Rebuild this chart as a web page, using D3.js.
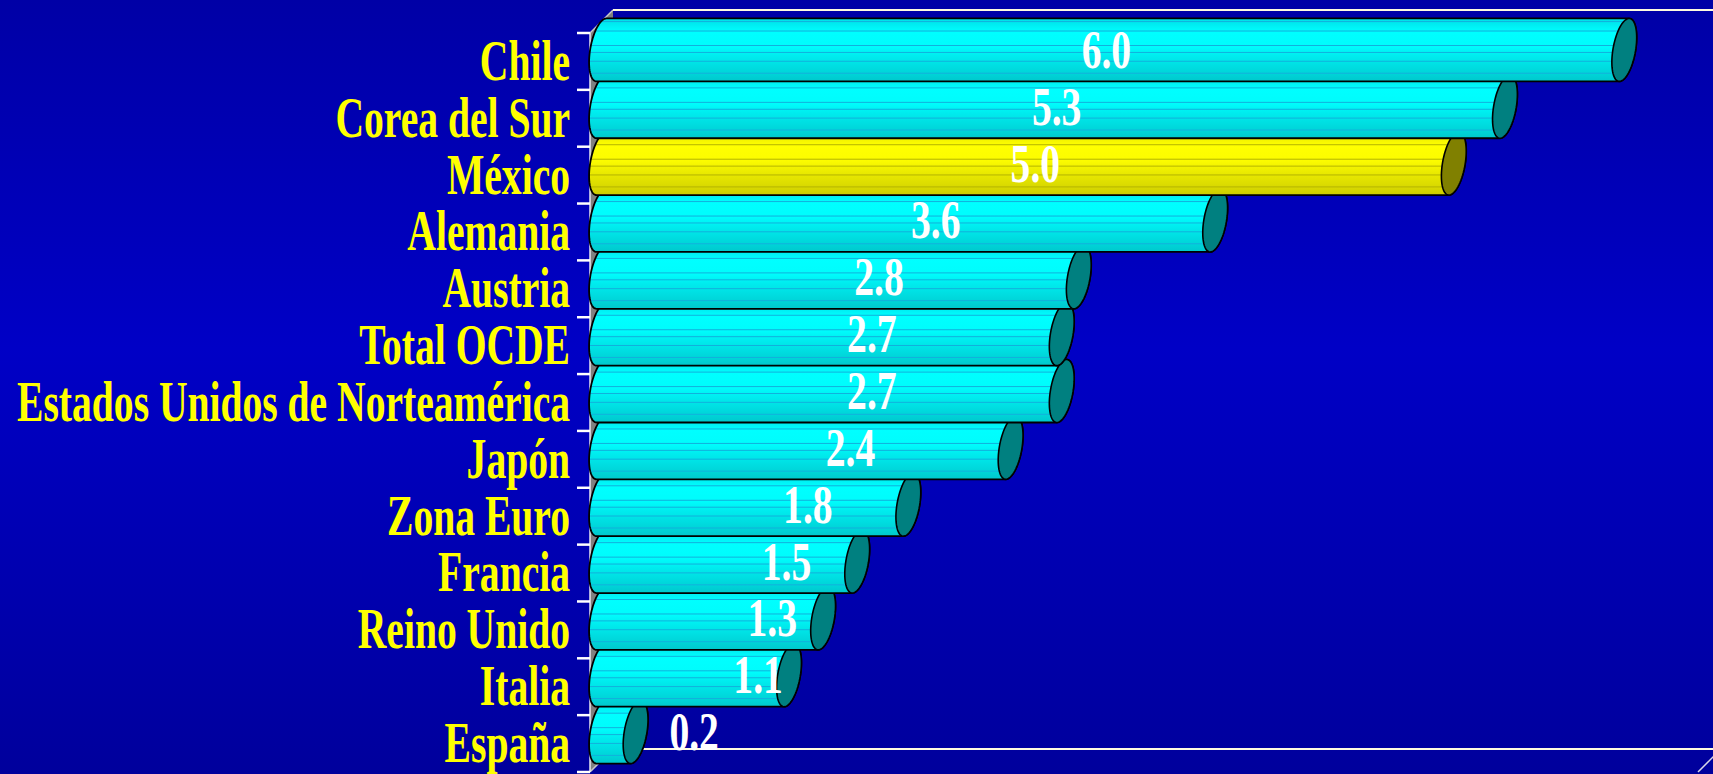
<!DOCTYPE html>
<html>
<head>
<meta charset="utf-8">
<script src="https://cdn.jsdelivr.net/npm/d3@7"></script>
<style>
  html, body { margin: 0; padding: 0; overflow: hidden; background: #0000b4; }
  svg { display: block; }
</style>
</head>
<body>
<svg id="chart" width="1713" height="774"></svg>
<script>
// Growth figures by economy (top to bottom)
const categories = ["Chile", "Corea del Sur", "México", "Alemania", "Austria", "Total OCDE",
  "Estados Unidos de Norteamérica", "Japón", "Zona Euro", "Francia", "Reino Unido", "Italia", "España"];
const values = [6.0, 5.3, 5.0, 3.6, 2.8, 2.7, 2.7, 2.4, 1.8, 1.5, 1.3, 1.1, 0.2];
const highlighted = ["México"];
const valueDomain = [0, 6.5];

(function () {
const W = 1713, H = 774;
const svg = d3.select("#chart");
const defs = svg.append("defs");

// Box geometry (front plane) and the oblique depth of the 3-D frame
const frontLeft = 590, frontRight = 1698, plotTop = 33, plotBottom = 772;
const depthX = 23, depthY = 23;

const x = d3.scaleLinear().domain(valueDomain).range([frontLeft, frontRight]);
const y = d3.scaleBand().domain(categories).range([plotTop, plotBottom]).padding(0);
const bw = y.bandwidth();
const unit = x(1) - x(0);

// Background
const bg = defs.append("linearGradient").attr("id", "bg").attr("x1", 0).attr("y1", 0).attr("x2", 0).attr("y2", 1);
[[0, "#0000a6"], [0.45, "#0000c6"], [1, "#00009c"]].forEach(([o, c]) =>
  bg.append("stop").attr("offset", o).attr("stop-color", c));
svg.append("rect").attr("width", W).attr("height", H).attr("fill", "url(#bg)");

// Frame: side wall, back edges, floor edges
const frame = svg.append("g");
frame.append("path")
  .attr("d", `M${frontLeft},${plotTop} L${frontLeft + depthX},${plotTop - depthY} L${frontLeft + depthX},${plotBottom - depthY} L${frontLeft},${plotBottom} Z`)
  .attr("fill", "#808080");
frame.append("line")
  .attr("x1", frontLeft).attr("y1", plotTop).attr("x2", frontLeft + depthX).attr("y2", plotTop - depthY)
  .attr("stroke", "#c8c8c8").attr("stroke-width", 1.5);
frame.append("line")
  .attr("x1", frontLeft).attr("y1", plotBottom).attr("x2", frontLeft + depthX).attr("y2", plotBottom - depthY)
  .attr("stroke", "#c8c8c8").attr("stroke-width", 1.5);
frame.append("line")
  .attr("x1", frontLeft + depthX).attr("y1", plotTop - depthY).attr("x2", W).attr("y2", plotTop - depthY)
  .attr("stroke", "#fffbe0").attr("stroke-width", 2);
frame.append("line")
  .attr("x1", frontLeft + depthX).attr("y1", plotBottom - depthY).attr("x2", W).attr("y2", plotBottom - depthY)
  .attr("stroke", "#fffbe0").attr("stroke-width", 2);
frame.append("line")
  .attr("x1", x(valueDomain[1])).attr("y1", plotBottom).attr("x2", x(valueDomain[1]) + depthX).attr("y2", plotBottom - depthY)
  .attr("stroke", "#d8d8e8").attr("stroke-width", 1.5);

// Category axis with tick marks on band boundaries
const tickYs = categories.map(c => y(c)).concat([plotBottom]);
frame.append("line")
  .attr("x1", frontLeft).attr("y1", plotTop).attr("x2", frontLeft).attr("y2", plotBottom)
  .attr("stroke", "#e8e8f0").attr("stroke-width", 1.5);
frame.selectAll(".tick").data(tickYs).join("line")
  .attr("x1", frontLeft - 13).attr("x2", frontLeft)
  .attr("y1", d => d).attr("y2", d => d)
  .attr("stroke", "#ffffff").attr("stroke-width", 2.5);

// Cylinder geometry: circular section seen obliquely -> slanted ellipse
const a = depthX * 0.54;            // horizontal half-width of the end ellipse
const h = bw * 0.554;               // vertical half-extent of the cylinder silhouette
const R = Math.sqrt(h * h - a * a); // section radius
const phiTop = Math.atan2(a, R);
const ell = (cx, cy, phi) => [cx + a * Math.sin(phi), cy - R * Math.cos(phi) - a * Math.sin(phi)];
const arc = (cx, cy, p0, p1, n = 40) => d3.range(n + 1).map(i => ell(cx, cy, p0 + (p1 - p0) * i / n));

// Shading for bodies
function bodyGradient(id, stops) {
  const g = defs.append("linearGradient").attr("id", id).attr("x1", 0).attr("y1", 0).attr("x2", 0).attr("y2", 1);
  stops.forEach(([o, c]) => g.append("stop").attr("offset", o).attr("stop-color", c));
}
bodyGradient("cyanBody", [[0, "#00dfe8"], [0.12, "#00f0f4"], [0.22, "#00ffff"], [0.45, "#00fcfc"],
  [0.6, "#00ecee"], [0.75, "#00dfe2"], [0.9, "#00d2d6"], [1, "#00c8cc"]]);
bodyGradient("yellowBody", [[0, "#e8e800"], [0.12, "#f4f400"], [0.22, "#ffff00"], [0.45, "#fcfc00"],
  [0.6, "#eeee00"], [0.75, "#e2e200"], [0.9, "#d6d600"], [1, "#cccc00"]]);
const stripeFracs = [0.05, 0.2, 0.43, 0.54, 0.68, 0.87];

const rows = categories.map((c, i) => ({ c, v: values[i], i }));
const line = d3.line();

// Draw from the bottom row up so upper cylinders overlap lower ones
const bars = svg.append("g");
rows.slice().reverse().forEach(d => {
  const hi = highlighted.includes(d.c);
  const cy = y(d.c) + bw / 2 - depthY / 2;
  const cx0 = x(0) + depthX / 2;
  const cx1 = x(d.v) + depthX / 2;
  const pts = [ell(cx0, cy, phiTop)]
    .concat(arc(cx1, cy, phiTop, phiTop + Math.PI))
    .concat(arc(cx0, cy, phiTop + Math.PI, phiTop + 2 * Math.PI));
  const bodyD = line(pts) + "Z";
  const g = bars.append("g");
  const clipId = "clip" + d.i;
  defs.append("clipPath").attr("id", clipId).append("path").attr("d", bodyD);
  g.append("path").attr("d", bodyD).attr("fill", hi ? "url(#yellowBody)" : "url(#cyanBody)");
  g.append("g").attr("clip-path", `url(#${clipId})`)
    .selectAll("line").data(stripeFracs).join("line")
    .attr("x1", cx0 - a - 2).attr("x2", cx1 + a + 2)
    .attr("y1", f => cy - h + 2 * h * f).attr("y2", f => cy - h + 2 * h * f)
    .attr("stroke", hi ? "#b4b400" : "#12b0dc").attr("stroke-width", 1);
  g.append("path").attr("d", bodyD).attr("fill", "none").attr("stroke", "#000").attr("stroke-width", 1.8);
  g.append("path").attr("d", line(arc(cx1, cy, 0, 2 * Math.PI, 72)) + "Z")
    .attr("fill", hi ? "#808000" : "#008080").attr("stroke", "#000").attr("stroke-width", 1.6);
});

// Category labels (condensed bold serif)
const serif = "'Liberation Serif', 'Times New Roman', Times, serif";
const catText = svg.append("g").selectAll("text").data(rows).join("text")
  .attr("font-family", serif).attr("font-weight", "bold").attr("font-size", 56)
  .attr("fill", "#ffff00").attr("text-anchor", "end")
  .text(d => d.c);
const longest = d3.max(catText.nodes(), n => n.getComputedTextLength());
const sx = 553 / longest;
catText.attr("transform", d => `translate(570,${y(d.c) + bw / 2 + 18.4}) scale(${sx},1)`);

// Value labels
svg.append("g").selectAll("text").data(rows).join("text")
  .attr("font-family", serif).attr("font-weight", "bold").attr("font-size", 55)
  .attr("fill", "#ffffff").attr("text-anchor", "middle")
  .attr("transform", d => {
    const cy = y(d.c) + bw / 2 - depthY / 2;
    const lx = x(0) + depthX / 2 + (0.46 + 0.417 * d.v) * unit;
    return `translate(${lx},${cy + 18}) scale(0.72,1)`;
  })
  .text(d => d3.format(".1f")(d.v));
})();
</script>
</body>
</html>
